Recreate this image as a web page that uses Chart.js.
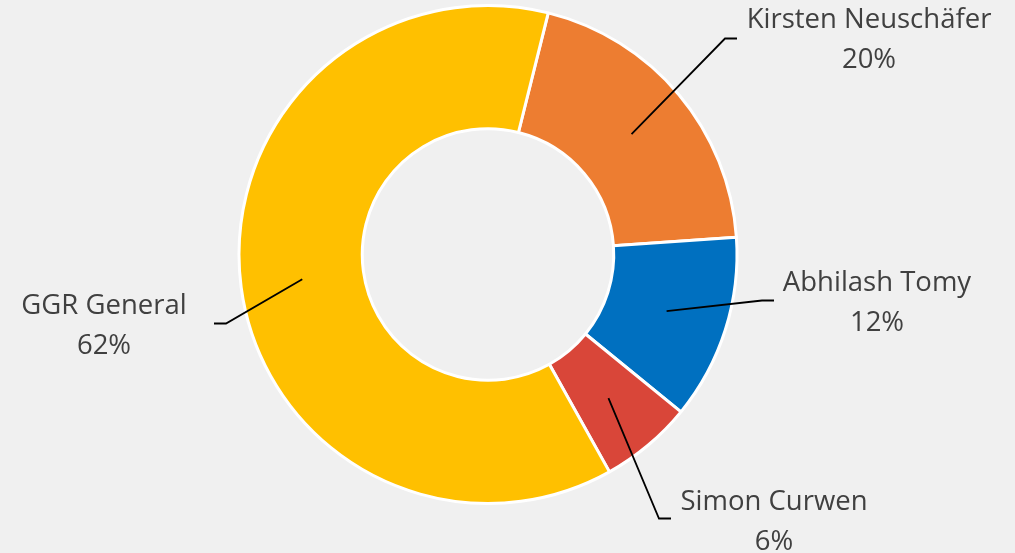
<!DOCTYPE html>
<html>
<head>
<meta charset="utf-8">
<script src="https://cdn.jsdelivr.net/npm/chart.js@4.4.0/dist/chart.umd.min.js"></script>
<style>
  html, body { margin: 0; padding: 0; background: #f0f0f0; }
  canvas { display: block; }
</style>
</head>
<body>
<canvas id="sharesChart" width="1015" height="553"></canvas>
<script>
// shares of the pot, clockwise from the top
var labels = ['Kirsten Neuschäfer', 'Abhilash Tomy', 'Simon Curwen', 'GGR General'];
var shares = [20, 12, 6, 62];
var sliceColors = ['#ED7D31', '#0070C0', '#D94639', '#FFC000'];

// where each label block sits, relative to the doughnut centre (text centre, line end)
var labelPlacement = [
  { tx: 381, ty: -215, ex: 249, ey: -216 },
  { tx: 389, ty: 48, ex: 286, ey: 46 },
  { tx: 286, ty: 267, ex: 183, ey: 264 },
  { tx: -384, ty: 71, ex: -274, ey: 69 }
];

const calloutPlugin = {
  id: 'callouts',
  afterDatasetsDraw(chart) {
    const ctx = chart.ctx;
    const meta = chart.getDatasetMeta(0);
    ctx.save();
    meta.data.forEach(function(arc, i) {
      const p = labelPlacement[i];
      const cx = arc.x, cy = arc.y;
      const start = arc.getCenterPoint();
      const endX = cx + p.ex, endY = cy + p.ey;
      const elbowX = p.ex > 0 ? endX - 12 : endX + 12;
      ctx.beginPath();
      ctx.strokeStyle = '#000000';
      ctx.lineWidth = 1.8;
      ctx.moveTo(start.x, start.y);
      ctx.lineTo(elbowX, endY);
      ctx.lineTo(endX, endY);
      ctx.stroke();

      ctx.fillStyle = '#404040';
      ctx.font = '27.5px "Open Sans"';
      ctx.textAlign = 'center';
      ctx.textBaseline = 'middle';
      ctx.fillText(labels[i], cx + p.tx, cy + p.ty - 19);
      ctx.fillText(shares[i] + '%', cx + p.tx, cy + p.ty + 21);
    });
    ctx.restore();
  }
};

var ctx = document.getElementById('sharesChart').getContext('2d');
var myChart = new Chart(ctx, {
  type: 'doughnut',
  data: {
    labels: labels,
    datasets: [{
      data: shares,
      backgroundColor: sliceColors,
      borderColor: '#ffffff',
      borderWidth: 3
    }]
  },
  options: {
    responsive: false,
    animation: false,
    rotation: 14,
    cutout: '50.5%',
    layout: { padding: { top: 4, bottom: 48, left: 0, right: 39 } },
    plugins: {
      legend: { display: false },
      tooltip: { enabled: false }
    }
  },
  plugins: [calloutPlugin]
});
</script>
</body>
</html>
